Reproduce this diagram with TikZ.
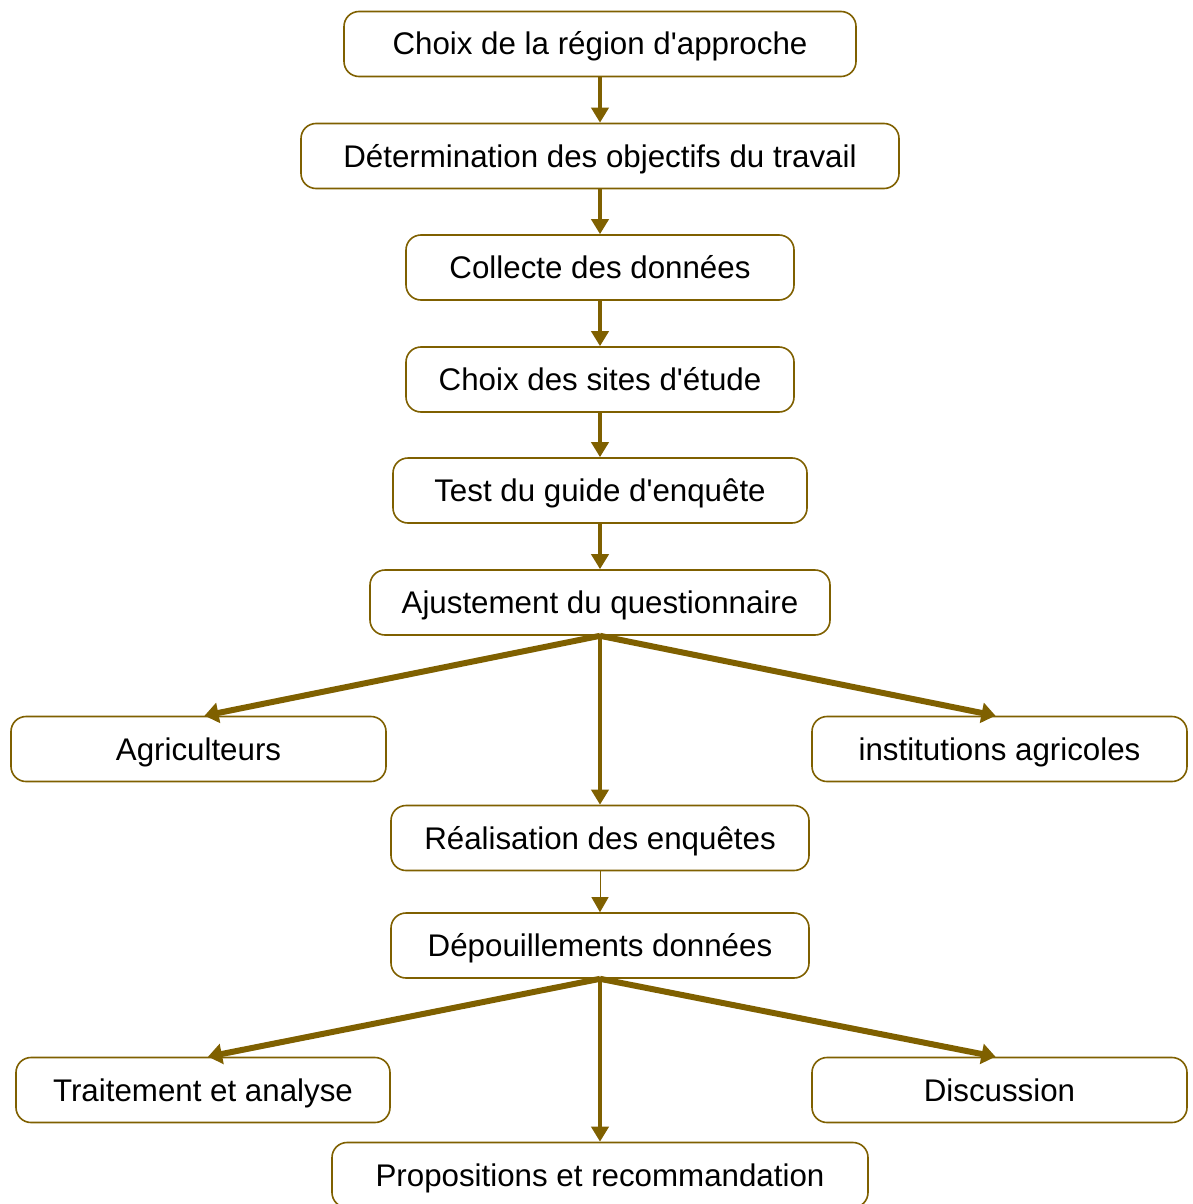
\documentclass[tikz,border=0pt]{standalone}
\usepackage{fontspec}
\setmainfont{Liberation Sans}
\usetikzlibrary{arrows.meta}
\definecolor{gold}{HTML}{7F6000}
\newcommand{\apos}{\textquotesingle}
\tikzset{
  box/.style={draw=gold, line width=1.6pt, rounded corners=15pt, fill=white,
    inner sep=0pt, minimum height=65pt, text height=25pt, text depth=3pt,
    font=\fontsize{31.3}{37}\selectfont, text=black},
  arr/.style={draw=gold, line width=4pt, -{Triangle[length=15pt,width=17pt]}},
  thinarr/.style={draw=gold, line width=1pt, -{Triangle[length=15pt,width=17pt]}},
  fork/.style={draw=gold, line width=6pt, -{Triangle[length=14pt,width=20pt]}},
}
\begin{document}
\begin{tikzpicture}[x=1pt,y=-1pt]
\useasboundingbox (0,0) rectangle (1192,1204);
\node[box, minimum width=512pt] (a) at (600,44) {Choix de la région d\apos approche};
\node[box, minimum width=598pt] (b) at (600,156) {Détermination des objectifs du travail};
\node[box, minimum width=388pt] (c) at (600,267.5) {Collecte des données};
\node[box, minimum width=388pt] (d) at (600,379.5) {Choix des sites d\apos étude};
\node[box, minimum width=414pt] (e) at (600,490.5) {Test du guide d\apos enquête};
\node[box, minimum width=460pt] (f) at (600,602.5) {Ajustement du questionnaire};
\node[box, minimum width=375pt] (g) at (198.5,749) {Agriculteurs};
\node[box, minimum width=375pt] (h) at (999.5,749) {institutions agricoles};
\node[box, minimum width=418pt] (i) at (600,838) {Réalisation des enquêtes};
\node[box, minimum width=418pt] (j) at (600,945.5) {Dépouillements données};
\node[box, minimum width=374pt] (k) at (203,1090) {Traitement et analyse};
\node[box, minimum width=375pt] (l) at (999.5,1090) {Discussion};
\node[box, minimum width=536pt] (m) at (600,1175) {Propositions et recommandation};
\draw[arr] (a.south) -- (b.north);
\draw[arr] (b.south) -- (c.north);
\draw[arr] (c.south) -- (d.north);
\draw[arr] (d.south) -- (e.north);
\draw[arr] (e.south) -- (f.north);
\draw[fork] (f.south) -- ([xshift=6pt]g.north);
\draw[fork] (f.south) -- ([xshift=-4pt]h.north);
\draw[arr] (f.south) -- (i.north);
\draw[thinarr] (i.south) -- (j.north);
\draw[fork] (j.south) -- ([xshift=5pt]k.north);
\draw[fork] (j.south) -- ([xshift=-4pt]l.north);
\draw[arr] (j.south) -- (m.north);
\end{tikzpicture}
\end{document}
